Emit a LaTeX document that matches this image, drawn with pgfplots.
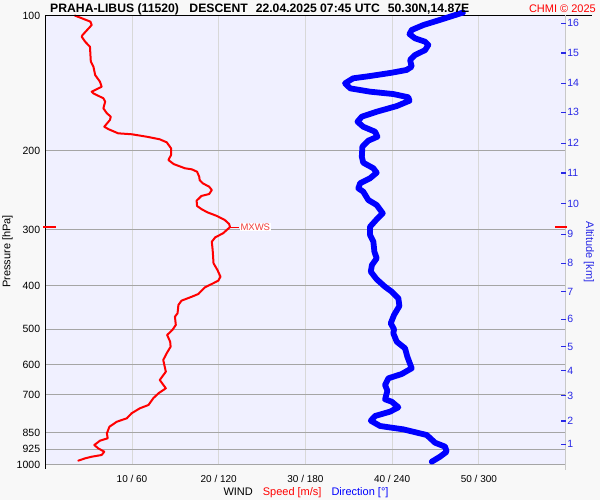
\documentclass[border=0pt]{standalone}
\usepackage{pgfplots}
\pgfplotsset{compat=1.18}
\usepackage{pgfplotstable}
\usepackage{fontspec}
\setmainfont{Liberation Sans}
\definecolor{outerbg}{RGB}{248,248,248}
\definecolor{plotbg}{RGB}{240,240,255}
\definecolor{hgrid}{RGB}{165,165,165}
\definecolor{vgrid}{RGB}{216,216,216}
\definecolor{rgray}{RGB}{200,200,200}
\definecolor{altblue}{RGB}{40,40,230}
\definecolor{mxred}{RGB}{240,60,60}

\pgfplotstableread{
p s
100.0 3.4
103.2 5.2
105.0 5.35
110.5 4.3
111.5 4.2
114.4 4.6
117.4 5.15
126.7 5.25
130.0 5.55
135.7 5.75
140.4 6.3
144.1 6.5
147.8 5.35
149.1 5.55
152.9 6.7
155.6 6.9
161.0 6.7
165.1 7.1
168.0 7.55
170.9 7.45
176.9 6.8
179.2 7.3
183.0 8.4
183.9 10.0
186.2 11.7
188.7 13.2
191.6 14.0
197.6 14.5
204.5 14.5
209.8 14.2
214.2 14.8
218.9 16.1
220.1 16.9
222.8 17.5
228.6 17.75
232.5 17.8
236.4 18.15
240.6 18.9
244.7 19.2
249.8 18.9
252.3 18.0
258.5 17.45
265.6 17.5
270.2 18.05
274.4 18.7
279.6 19.8
285.4 20.7
291.3 21.2
296.0 21.3
305.5 20.5
311.9 19.6
319.0 19.2
332.9 19.3
356.4 19.4
368.8 19.85
381.7 20.2
389.7 19.95
396.3 19.2
403.1 18.4
417.1 17.65
422.9 16.9
431.7 15.7
441.3 15.35
460.5 15.25
468.6 14.95
489.0 15.05
501.7 14.65
514.6 14.05
532.8 14.4
546.5 14.45
565.3 14.0
585.1 13.6
621.3 13.9
648.3 13.2
676.6 13.9
694.1 13.05
712.1 12.45
737.0 11.9
749.7 10.9
769.1 9.95
789.1 9.4
802.9 8.25
823.8 7.4
852.2 7.1
874.2 7.2
885.1 6.3
904.9 5.65
920.3 6.1
936.4 6.8
952.4 6.5
960.8 5.35
968.7 4.6
980.6 3.8
}\speedtable

\pgfplotstableread{
p d
98.5 289
102.3 273
105.0 261.6
107.7 253.5
110.0 252
112.4 255.8
114.4 262.8
116.3 265
119.4 262.8
122.5 255.8
125.6 252.4
130.0 253.5
132.2 250
134.1 239.7
136.4 224.7
138.0 213
141.6 207.4
145.3 211
147.8 224.7
149.6 240.8
152.1 251.2
154.8 252
159.1 243.2
163.8 229.3
168.0 219
172.4 216
176.9 220
181.5 228.2
186.2 229.8
190.0 223.5
196.0 219.4
206.3 219
212.7 220
218.9 227
223.9 229.3
230.4 224.7
236.4 217.8
242.6 216.6
246.8 220
257.6 223.5
264.3 229.3
275.8 233.5
284.4 229.3
295.4 224.7
308.2 224.7
319.0 227
335.8 227.7
347.4 229.3
359.5 226
372.0 225.2
386.9 229.3
401.8 235
412.2 239.7
426.4 244.3
443.6 245
464.5 241.3
484.8 239
499.8 241.3
510.3 240.8
532.8 243.2
551.0 248.9
575.3 250.5
610.5 253.5
628.7 246.6
642.7 237.4
665.2 235.1
685.0 236.7
715.9 235.1
724.7 239.7
745.8 244.3
762.8 238.5
779.8 228.2
798.8 225.2
820.8 231.6
835.0 247.7
859.6 263.9
894.3 269.7
912.6 276.6
936.4 277.7
960.8 273.1
985.6 267.4
}\dirtable

\begin{document}
\begin{tikzpicture}[x=1pt,y=1pt]
\useasboundingbox (0,0) rectangle (600,500);
\fill[outerbg] (0,0) rectangle (600,500);
\begin{axis}[
  scale only axis, width=520.3pt, height=449pt,
  at={(45.3pt,35.5pt)}, anchor=south west,
  ymode=log, y dir=reverse, ymin=100, ymax=1000,
  axis line style={draw=none},
  xminorticks=false, yminorticks=false,
  clip=false,
  xmin=0, xmax=60,
  axis background/.style={fill=plotbg},
  xtick={10,20,30,40,50},
  xticklabels={10 / 60, 20 / 120, 30 / 180, 40 / 240, 50 / 300},
  ytick={100,200,300,400,500,600,700,850,925,1000},
  yticklabels={100,200,300,400,500,600,700,850,925,1000},
  xmajorgrids, ymajorgrids,
  x grid style={vgrid, line width=1pt},
  y grid style={hgrid, line width=1pt},
  major tick length=0pt,
  tick style={draw=none},
  xticklabel style={anchor=base, inner sep=0pt, yshift=-17.5pt, font=\fontsize{10}{12}\selectfont},
  yticklabel style={anchor=east, inner sep=0pt, xshift=-5pt, font=\fontsize{10.5}{12}\selectfont},
]
\addplot[red, line width=2pt, line join=round, line cap=round] table[x=s,y=p]{\speedtable};
\draw[red, line width=1pt] (axis cs:21.3,296) -- ++(9pt,0pt) node[right, inner sep=1pt, fill=white, text=mxred, font=\fontsize{9.5}{11}\selectfont] {MXWS};
\end{axis}
\draw[black, line width=1.2pt] (45.3,31) -- (45.3,484.5) -- (592,484.5);
\draw[rgray, line width=1pt] (565.6,484.5) -- (565.6,30);
\begin{axis}[
  scale only axis, width=520.3pt, height=449pt,
  at={(45.3pt,35.5pt)}, anchor=south west,
  ymode=log, y dir=reverse, ymin=100, ymax=1000,
  axis line style={draw=none},
  xminorticks=false, yminorticks=false,
  clip=false,
  xmin=0, xmax=360, xtick=\empty,
  ytick={104.1,121.2,141.6,164.3,192.6,224.3,262.5,307.1,356.4,412.2,474.9,546.5,618.1,702.7,800.0,901.6},
  yticklabels={16,15,14,13,12,11,10,9,8,7,6,5,4,3,2,1},
  ytick pos=right, yticklabel pos=right,
  tick align=inside, major tick length=5pt,
  major tick style={altblue, line width=1.2pt},
  yticklabel style={anchor=west, inner sep=0pt, xshift=1.5pt, text=altblue, font=\fontsize{10.5}{12}\selectfont},
]
\addplot[blue, line width=5.8pt, line join=round, line cap=round] table[x=d,y=p]{\dirtable};
\draw[red, line width=1.3pt] ([xshift=-2pt]axis cs:0,296) -- ([xshift=11pt]axis cs:0,296);
\draw[red, line width=1.3pt] ([xshift=1pt]axis cs:360,296) -- ([xshift=-10.5pt]axis cs:360,296);
\end{axis}
\node[anchor=base west, inner sep=0pt, font=\bfseries\fontsize{12.2}{14}\selectfont] at (50,487.5)
  {PRAHA-LIBUS (11520)\hspace{10.5pt}DESCENT\hspace{8pt}22.04.2025 07:45 UTC\hspace{8pt}50.30N,14.87E};
\node[anchor=base east, inner sep=0pt, text=red, font=\fontsize{11}{13}\selectfont] at (596,487.5) {CHMI © 2025};
\node[rotate=90, inner sep=0pt, font=\fontsize{11}{13}\selectfont] at (7.5,248.5) {Pressure [hPa]};
\node[rotate=-90, inner sep=0pt, text=altblue, font=\fontsize{11}{13}\selectfont] at (589,248) {Altitude [km]};
\node[anchor=base, inner sep=0pt, font=\fontsize{11}{13}\selectfont] at (306,4)
  {WIND\hspace{10pt}\textcolor{red}{Speed [m/s]}\hspace{10pt}\textcolor{blue}{Direction [°]}};
\end{tikzpicture}
\end{document}
